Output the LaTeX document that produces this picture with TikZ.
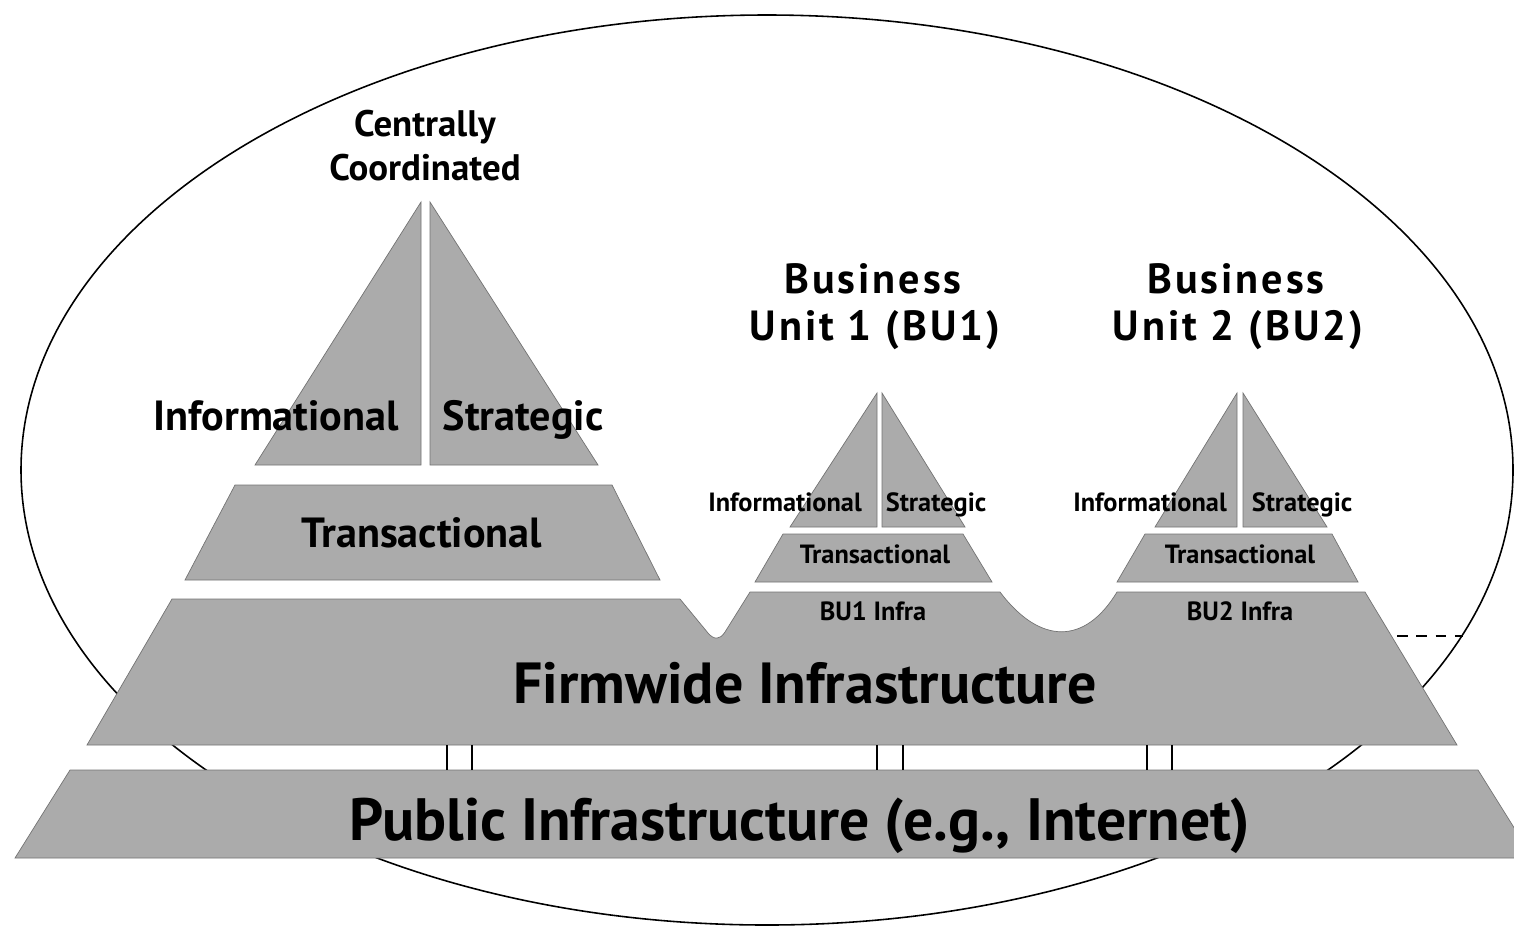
\documentclass[tikz,border=0pt]{standalone}
\usepackage{fontspec}
\setmainfont{PT Sans}
\begin{document}
\begin{tikzpicture}[x=0.02cm,y=-0.02cm]
\useasboundingbox (0,0) rectangle (1514,934);
\clip (0,0) rectangle (1514,934);
\tikzstyle{layer}=[fill=black!33,draw=black!55,line width=0.4pt]
\tikzstyle{lbl}=[inner sep=0pt,anchor=base,font=\bfseries]
\tikzstyle{bigtxt}=[lbl,font=\bfseries\fontsize{33}{38}\selectfont]
\tikzstyle{midtxt}=[lbl,font=\bfseries\fontsize{24}{28}\selectfont]
\tikzstyle{smalltxt}=[lbl,font=\bfseries\fontsize{15}{18}\selectfont]
\tikzstyle{headtxt}=[lbl,font=\bfseries\fontsize{24}{28}\selectfont\addfontfeature{LetterSpace=7}]
% outer boundary
\draw[line width=0.9pt] (767,470) ellipse (746 and 455);
% public layer
\fill[layer] (15,858) -- (70,770) -- (1478,770) -- (1533,858) -- cycle;
% firmwide layer with the two business unit bumps
\fill[layer] (87,745) -- (172,599) -- (680,599) -- (708,633)
  .. controls (714,640) and (720,640) .. (725,632) -- (750,592) -- (1000,592)
  .. controls (1040,645) and (1085,645) .. (1117,592) -- (1365,592) -- (1457,745) -- cycle;
% links between firmwide and public
\foreach \x in {447,472,877,903,1147,1172}
  \draw[line width=1.1pt] (\x,745) -- (\x,770);
% centrally coordinated pyramid
\fill[layer] (185,580) -- (235,485) -- (612,485) -- (660,580) -- cycle;
\fill[layer] (255,465) -- (421,202) -- (421,465) -- cycle;
\fill[layer] (430,202) -- (598,465) -- (430,465) -- cycle;
% BU1 pyramid
\begin{scope}
\fill[layer] (755,582) -- (783,534) -- (963,534) -- (992,582) -- cycle;
\fill[layer] (790,527) -- (877,393) -- (877,527) -- cycle;
\fill[layer] (882,393) -- (965,527) -- (882,527) -- cycle;
\end{scope}
% BU2 pyramid
\begin{scope}[xshift=362*0.02cm]
\fill[layer] (755,582) -- (783,534) -- (970,534) -- (996,582) -- cycle;
\fill[layer] (793,527) -- (875,393) -- (875,527) -- cycle;
\fill[layer] (881,393) -- (965,527) -- (881,527) -- cycle;
\end{scope}
\coordinate (bu2edge) at (1397,636);
\coordinate (rim) at (1463,636);
\draw[dashed,line width=0.9pt,dash pattern=on 6pt off 5pt] (bu2edge) -- (rim);
% labels
\node[lbl,font=\bfseries\fontsize{21}{25}\selectfont] (central1) at (425,136) {Centrally};
\node[lbl,font=\bfseries\fontsize{21}{25}\selectfont] (central2) at (425,180) {Coordinated};
\node[midtxt] (inf) at (276,430) {Informational};
\node[midtxt] (strat) at (523,430) {Strategic};
\node[midtxt] (trans) at (422,547) {Transactional};
\node[headtxt] (bu1a) at (873,293) {Business};
\node[headtxt] (bu1b) at (875,340) {Unit 1 (BU1)};
\node[headtxt] (bu2a) at (1236,293) {Business};
\node[headtxt] (bu2b) at (1238,340) {Unit 2 (BU2)};
\node[smalltxt] (inf1) at (785,511) {Informational};
\node[smalltxt] (strat1) at (936,511) {Strategic};
\node[smalltxt] (trans1) at (875,563) {Transactional};
\node[smalltxt] (infra1) at (873,620) {BU1 Infra};
\node[smalltxt] (inf2) at (1150,511) {Informational};
\node[smalltxt] (strat2) at (1302,511) {Strategic};
\node[smalltxt] (trans2) at (1240,563) {Transactional};
\node[smalltxt] (infra2) at (1240,620) {BU2 Infra};
\node[bigtxt] (firm) at (805,703) {Firmwide Infrastructure};
\node[bigtxt,font=\bfseries\fontsize{34}{40}\selectfont] (public) at (800,840) {Public Infrastructure (e.g., Internet)};
\end{tikzpicture}
\end{document}
